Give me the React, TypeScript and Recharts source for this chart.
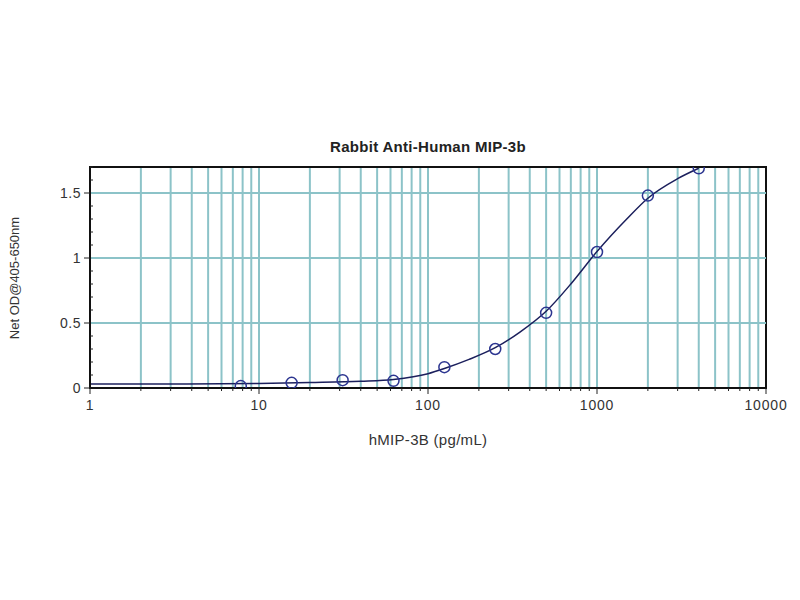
import React from "react";
import {
  ComposedChart,
  CartesianGrid,
  Line,
  ReferenceArea,
  ReferenceLine,
  Scatter,
  XAxis,
  YAxis,
} from "recharts";

// measured standards (pg/mL) and net OD
const concentrations = [7.8, 15.6, 31.25, 62.5, 125, 250, 500, 1000, 2000, 4000];
const odValues = [0.015, 0.04, 0.06, 0.055, 0.16, 0.3, 0.578, 1.046, 1.48, 1.69];

// fitted curve
const fitConc = [1, 3, 10, 20, 40, 62.5, 100, 125, 175, 250, 350, 500, 700, 1000, 1500, 2000, 3000, 4000];
const fitOd = [0.03, 0.03, 0.035, 0.042, 0.052, 0.066, 0.11, 0.15, 0.22, 0.31, 0.43, 0.59, 0.8, 1.05, 1.3, 1.46, 1.61, 1.69];

const xTicks = [
  1, 2, 3, 4, 5, 6, 7, 8, 9,
  10, 20, 30, 40, 50, 60, 70, 80, 90,
  100, 200, 300, 400, 500, 600, 700, 800, 900,
  1000, 2000, 3000, 4000, 5000, 6000, 7000, 8000, 9000,
  10000,
];
const xMajor = [1, 10, 100, 1000, 10000];
const yTicks = [0, 0.1, 0.2, 0.3, 0.4, 0.5, 0.6, 0.7, 0.8, 0.9, 1, 1.1, 1.2, 1.3, 1.4, 1.5, 1.6, 1.7];
const yMajor = [0, 0.5, 1, 1.5];
const yGrid = [0.5, 1, 1.5];

const points = concentrations.map((x, i) => ({ x, y: odValues[i] }));
const fit = fitConc.map((x, i) => ({ x, y: fitOd[i] }));

const GRID = "#8cc3c8";
const INK = "#1b1f5c";
const FONT = "'Liberation Sans', Arial, sans-serif";

function XTick(props: any) {
  const { x, y, payload } = props;
  const major = xMajor.includes(payload.value);
  return (
    <g>
      <line x1={x} x2={x} y1={y} y2={y + (major ? 6 : 3)} stroke="#222" strokeWidth={1} />
      {major && (
        <text
          x={x}
          y={y + 22}
          textAnchor="middle"
          fontSize={14}
          letterSpacing={0.8}
          fontFamily={FONT}
          fill="#333"
        >
          {payload.value}
        </text>
      )}
    </g>
  );
}

function YTick(props: any) {
  const { x, y, payload } = props;
  const major = yMajor.includes(payload.value);
  return (
    <g>
      {major ? (
        <line x1={x - 6} x2={x} y1={y} y2={y} stroke="#222" strokeWidth={1} />
      ) : (
        <line x1={x} x2={x + 3} y1={y} y2={y} stroke="#222" strokeWidth={1} />
      )}
      {major && (
        <text
          x={x - 9}
          y={y}
          dy="0.35em"
          textAnchor="end"
          fontSize={14}
          letterSpacing={0.5}
          fontFamily={FONT}
          fill="#333"
        >
          {payload.value}
        </text>
      )}
    </g>
  );
}

export default function App() {
  return (
    <div style={{ position: "relative", width: 800, height: 600, background: "#fff", fontFamily: FONT }}>
      <style>{`body{margin:0}`}</style>
      <div
        style={{
          position: "absolute",
          left: 0,
          width: 856,
          top: 138,
          textAlign: "center",
          fontWeight: "bold",
          fontSize: 15,
          letterSpacing: 0.3,
          color: "#222",
        }}
      >
        Rabbit Anti-Human MIP-3b
      </div>
      <div
        style={{
          position: "absolute",
          left: 0,
          width: 856,
          top: 431,
          textAlign: "center",
          fontSize: 15,
          letterSpacing: 0.3,
          color: "#333",
        }}
      >
        hMIP-3B (pg/mL)
      </div>
      <div
        style={{
          position: "absolute",
          left: 14,
          top: 278,
          transform: "translate(-50%, -50%) rotate(-90deg)",
          whiteSpace: "nowrap",
          fontSize: 13,
          color: "#333",
        }}
      >
        Net OD@405-650nm
      </div>
      <ComposedChart
        width={800}
        height={600}
        margin={{ top: 167, right: 34, bottom: 182, left: 50 }}
      >
        <CartesianGrid horizontal={false} stroke={GRID} strokeWidth={2} />
        <XAxis
          type="number"
          dataKey="x"
          scale="log"
          domain={[1, 10000]}
          ticks={xTicks}
          interval={0}
          allowDataOverflow
          height={30}
          tickSize={0}
          tickMargin={0}
          tickLine={false}
          axisLine={{ stroke: "#111", strokeWidth: 2 }}
          tick={<XTick />}
        />
        <YAxis
          type="number"
          dataKey="y"
          domain={[0, 1.7]}
          ticks={yTicks}
          interval={0}
          allowDataOverflow
          width={40}
          tickSize={0}
          tickMargin={0}
          tickLine={false}
          axisLine={{ stroke: "#111", strokeWidth: 2 }}
          tick={<YTick />}
        />
        {yGrid.map((v) => (
          <ReferenceLine key={v} y={v} stroke={GRID} strokeWidth={2} />
        ))}
        <ReferenceArea
          x1={1}
          x2={10000}
          y1={0}
          y2={1.7}
          fill="none"
          stroke="#111"
          strokeWidth={2}
          fillOpacity={0}
        />
        <Line
          data={fit}
          dataKey="y"
          type="monotone"
          stroke={INK}
          strokeWidth={1.5}
          dot={false}
          activeDot={false}
          isAnimationActive={false}
        />
        <Scatter
          data={points}
          dataKey="y"
          fill="none"
          isAnimationActive={false}
          shape={(p: any) => (
            <circle cx={p.cx} cy={p.cy} r={5.5} fill="none" stroke="#2c3590" strokeWidth={1.5} />
          )}
        />
      </ComposedChart>
    </div>
  );
}
